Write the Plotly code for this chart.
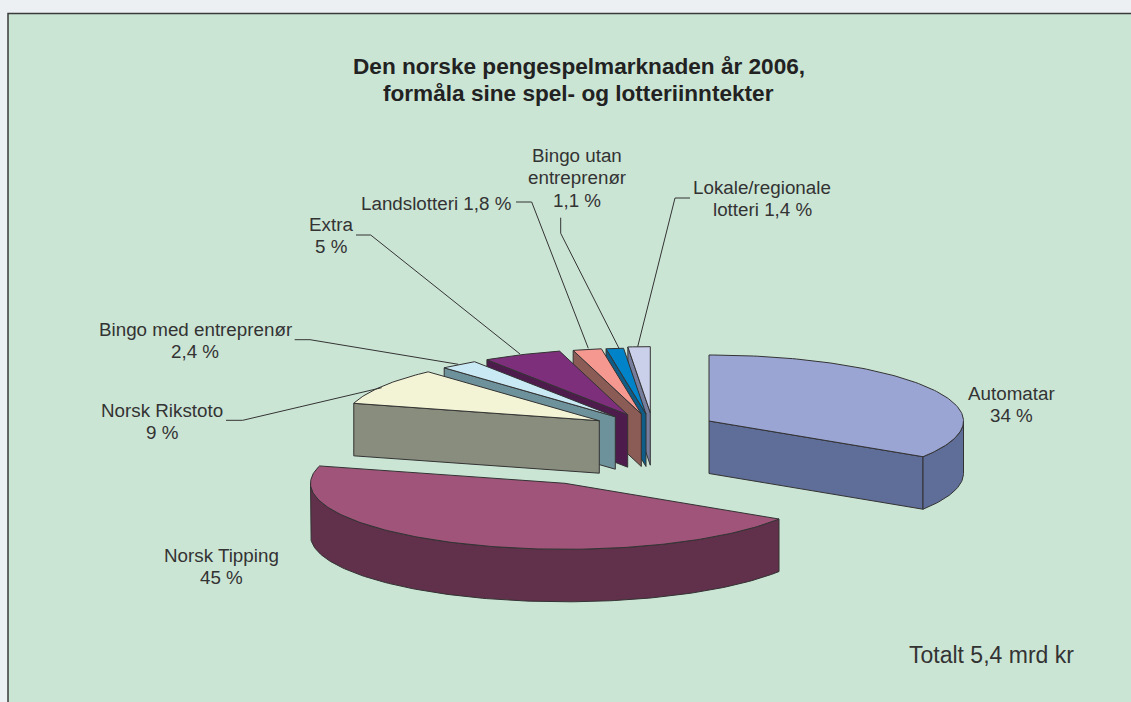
import math
import plotly.graph_objects as go

# ---- data ----
categories = ["Automatar", "Norsk Tipping", "Norsk Rikstoto", "Bingo med entreprenør",
              "Extra", "Landslotteri", "Bingo utan entreprenør", "Lokale/regionale lotteri"]
shares = [34, 45, 9, 2.4, 5, 1.8, 1.1, 1.4]
title_lines = ["Den norske pengespelmarknaden år 2006,", "formåla sine spel- og lotteriinntekter"]
label_lines = [["Automatar", "34 %"], ["Norsk Tipping", "45 %"], ["Norsk Rikstoto", "9 %"],
               ["Bingo med entreprenør", "2,4 %"], ["Extra", "5 %"], ["Landslotteri 1,8 %"],
               ["Bingo utan", "entreprenør", "1,1 %"], ["Lokale/regionale", "lotteri 1,4 %"]]
total_text = "Totalt 5,4 mrd kr"

# ---- styling and pie geometry (page pixels) ----
W, H = 1131, 702
RX, RY, DEPTH = 254.5, 66, 52.5
apex = [(709, 421), (565, 483.3), (599.3, 420.7), (615.3, 416.7),
        (627.7, 414.7), (641.3, 414), (646, 414), (650.3, 412.7)]
top_col = ["#9AA5D3", "#A0547A", "#F3F3D5", "#C9EAF5", "#7E2F7C", "#F49890", "#0083C8", "#CBD0EA"]
side_col = ["#5F6D99", "#61304B", "#888D7D", "#6E929C", "#4D1B4C", "#8A5C55", "#0D5D88", "#777D9C"]
INK = "#333333"
label_pos = [(1011, 393), (221, 555), (162, 410), (195, 329), (331, 224), (436, 203), (577, 155), (762, 187)]
leaders = [None, None,
           [(226, 420.3), (242.7, 420.3), (381.7, 387.7)],
           [(294.7, 339.7), (310, 339.7), (458.3, 364.3)],
           [(356, 235), (370.7, 235), (520, 354)],
           [(516, 202), (531.7, 202), (588.3, 348.3)],
           [(560.7, 217.7), (560.7, 233.3), (619, 348.3)],
           [(690, 198), (675, 198), (637.7, 346.7)]]

total = sum(shares)
starts, ends = [], []
acc = 0.0
for s in shares:
    starts.append(acc / total * 360)
    acc += s
    ends.append(acc / total * 360)


def rim(c, deg):
    a = math.radians(deg)
    return c[0] + RX * math.sin(a), c[1] - RY * math.cos(a)


def arc(c, a0, a1, step=1.0):
    n = max(2, int(abs(a1 - a0) / step) + 1)
    return [rim(c, a0 + (a1 - a0) * i / (n - 1)) for i in range(n)]


fig = go.Figure()


def face(pts, col, name):
    xs = [p[0] for p in pts] + [pts[0][0]]
    ys = [p[1] for p in pts] + [pts[0][1]]
    fig.add_trace(go.Scatter(x=xs, y=ys, mode="lines", fill="toself", fillcolor=col,
                             line=dict(color=INK, width=1), name=name, hoverinfo="name",
                             showlegend=False))


def down(pts):
    return [(x, y + DEPTH) for x, y in pts]


# back-to-front painting order
for i in [7, 6, 5, 4, 3, 2, 0, 1]:
    c, a0, a1 = apex[i], starts[i], ends[i]
    if i == 0:  # cut face at the clockwise end
        edge = [c, rim(c, a1)]
        face(edge + down(edge)[::-1], side_col[i], categories[i])
    elif i >= 2:  # cut face at the clockwise start
        edge = [rim(c, a0), c]
        face(edge + down(edge)[::-1], side_col[i], categories[i])
    lo, hi = max(a0, 90), min(a1, 270)
    if hi > lo:  # outer wall
        wall = arc(c, lo, hi)
        face(wall + down(wall)[::-1], side_col[i], categories[i])
    face([c] + arc(c, a0, a1), top_col[i], categories[i])

for pts in leaders:
    if pts:
        fig.add_trace(go.Scatter(x=[p[0] for p in pts], y=[p[1] for p in pts], mode="lines",
                                 line=dict(color=INK, width=1), hoverinfo="skip", showlegend=False))

annotations = []


def text(x, y, s, size, bold=False, anchor="center"):
    annotations.append(dict(x=x, y=y, xref="x", yref="y", text=f"<b>{s}</b>" if bold else s,
                            showarrow=False, xanchor=anchor, yanchor="middle",
                            font=dict(family="Liberation Sans", size=size, color="#222222" if bold else INK)))


for i, line in enumerate(title_lines):
    text(578.5, 66 + i * 27, line, 22.6, bold=True)
for (x, y), lines in zip(label_pos, label_lines):
    for j, line in enumerate(lines):
        text(x, y + j * 22.7, line, 18.8)
text(991, 655, total_text, 23)

fig.update_layout(
    width=W, height=H, margin=dict(l=0, r=0, t=0, b=0), autosize=False,
    paper_bgcolor="#EDF0F3", plot_bgcolor="#EDF0F3", annotations=annotations,
    xaxis=dict(range=[0, W], visible=False, fixedrange=True),
    yaxis=dict(range=[H, 0], visible=False, fixedrange=True),
    shapes=[dict(type="rect", xref="x", yref="y", x0=8, y0=13.5, x1=W + 20, y1=H + 20, layer="below",
                 fillcolor="#CBE5D5", line=dict(color="#3A3A3A", width=1.5))],
)
fig.write_html("out.html", config={"displayModeBar": False},
               post_script="document.body.style.margin='0';document.body.style.overflow='hidden';")
